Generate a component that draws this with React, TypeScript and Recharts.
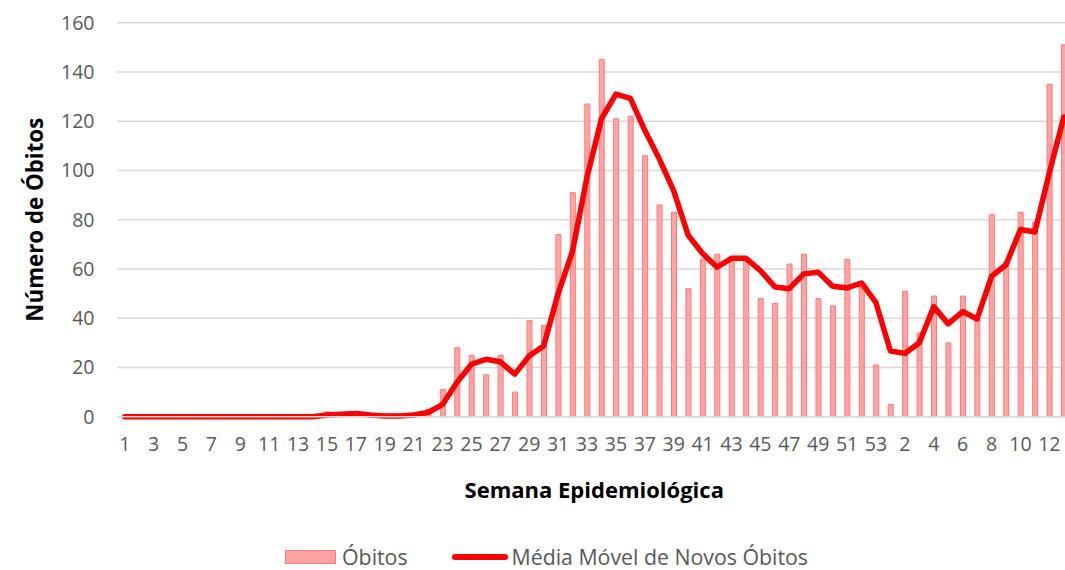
import React from "react";
import {
  ComposedChart,
  Bar,
  Line,
  XAxis,
  YAxis,
  CartesianGrid,
  Legend,
  Label,
} from "recharts";

// Epidemiological weeks: 2020 (1..53) followed by 2021 (1..13)
const weeks2020 = [
  1, 2, 3, 4, 5, 6, 7, 8, 9, 10, 11, 12, 13, 14, 15, 16, 17, 18, 19, 20, 21, 22, 23, 24, 25, 26,
  27, 28, 29, 30, 31, 32, 33, 34, 35, 36, 37, 38, 39, 40, 41, 42, 43, 44, 45, 46, 47, 48, 49, 50,
  51, 52, 53,
];
const weeks2021 = [1, 2, 3, 4, 5, 6, 7, 8, 9, 10, 11, 12, 13];

// Óbitos per week
const obitos2020 = [
  0, 0, 0, 0, 0, 0, 0, 0, 0, 0, 0, 0, 0, 0, 2, 1, 1, 0, 0, 1, 1, 3, 11, 28, 25, 17, 25, 10, 39,
  37, 74, 91, 127, 145, 121, 122, 106, 86, 83, 52, 64, 66, 63, 64, 48, 46, 62, 66, 48, 45, 64, 54,
  21,
];
const obitos2021 = [5, 51, 34, 49, 30, 49, 40, 82, 63, 83, 79, 135, 151];

// Média Móvel de Novos Óbitos
const media2020 = [
  0, 0, 0, 0, 0, 0, 0, 0, 0, 0, 0, 0, 0, 0, 0.7, 1.0, 1.3, 0.7, 0.3, 0.3, 0.7, 1.7, 5.0, 14.0,
  21.3, 23.3, 22.3, 17.3, 24.7, 28.7, 50.0, 67.3, 97.3, 121.0, 131.0, 129.3, 116.3, 104.7, 91.7,
  73.7, 66.3, 60.7, 64.3, 64.3, 59.3, 52.7, 52.0, 58.0, 58.7, 53.0, 52.3, 54.3, 46.3,
];
const media2021 = [26.7, 25.7, 30.0, 44.7, 37.7, 42.7, 39.7, 57.0, 61.7, 76.0, 75.0, 99.0, 121.7];

const yTicks = [0, 20, 40, 60, 80, 100, 120, 140, 160];

const data = [
  ...weeks2020.map((w, i) => ({
    key: `2020-${w}`,
    week: w,
    obitos: obitos2020[i],
    media: media2020[i],
  })),
  ...weeks2021.map((w, i) => ({
    key: `2021-${w}`,
    week: w,
    obitos: obitos2021[i],
    media: media2021[i],
  })),
];

const FONT = "'Open Sans', 'Noto Sans', sans-serif";
const GRAY = "#595959";

const renderLegend = () => (
  <div
    style={{
      height: 40,
      boxSizing: "border-box",
      paddingTop: 17,
      paddingBottom: 3,
      paddingLeft: 22,
      display: "flex",
      alignItems: "center",
      justifyContent: "center",
      fontFamily: FONT,
      fontSize: 21.3,
      color: GRAY,
      lineHeight: "20px",
      whiteSpace: "nowrap",
    }}
  >
    <span
      style={{
        display: "inline-block",
        width: 49,
        height: 12,
        background: "#ffa3a3",
        border: "1px solid #ff7a7a",
        marginRight: 6,
      }}
    />
    <span>Óbitos</span>
    <span
      style={{
        display: "inline-block",
        width: 56,
        height: 6,
        background: "#ff0000",
        borderRadius: 3,
        marginLeft: 44,
        marginRight: 4,
      }}
    />
    <span>Média Móvel de Novos Óbitos</span>
  </div>
);

export default function App() {
  return (
    <div
      style={{
        position: "fixed",
        left: 0,
        top: 0,
        width: 1065,
        height: 570,
        overflow: "hidden",
        background: "#ffffff",
      }}
    >
      <ComposedChart
        width={1071}
        height={570}
        data={data}
        margin={{ top: 22.7, right: 0, bottom: 0, left: 0 }}
        barCategoryGap={0}
      >
        <CartesianGrid vertical={false} stroke="#d9d9d9" strokeWidth={1.5} />
        <XAxis
          dataKey="key"
          interval={1}
          tickFormatter={(v: string) => v.split("-")[1]}
          tickLine={false}
          axisLine={{ stroke: "#d9d9d9", strokeWidth: 1.5 }}
          tick={{ fill: GRAY, fontSize: 19.5, fontFamily: FONT }}
          tickMargin={14}
          height={113.3}
        >
          <Label
            content={({ viewBox }: any) => (
              <text
                x={viewBox.x + viewBox.width / 2}
                y={viewBox.y + 72}
                textAnchor="middle"
                dominantBaseline="central"
                fontFamily={FONT}
                fontWeight={700}
                fontSize={22}
                fill="#000000"
              >
                Semana Epidemiológica
              </text>
            )}
          />
        </XAxis>
        <YAxis
          domain={[0, 160]}
          ticks={yTicks}
          width={117.5}
          tickLine={false}
          axisLine={false}
          tickMargin={17}
          tick={{ fill: GRAY, fontSize: 19.5, fontFamily: FONT }}
        >
          <Label
            content={({ viewBox }: any) => {
              const cx = viewBox.x + 35;
              const cy = viewBox.y + viewBox.height / 2;
              return (
                <text
                  x={cx}
                  y={cy}
                  transform={`rotate(-90 ${cx} ${cy})`}
                  textAnchor="middle"
                  dominantBaseline="central"
                  fontFamily={FONT}
                  fontWeight={700}
                  fontSize={22.3}
                  fill="#000000"
                >
                  Número de Óbitos
                </text>
              );
            }}
          />
        </YAxis>
        <Legend verticalAlign="bottom" height={40} content={renderLegend} />
        <Bar
          dataKey="obitos"
          name="Óbitos"
          barSize={5}
          fill="#ffa3a3"
          stroke="#ff7a7a"
          strokeWidth={1}
          isAnimationActive={false}
        />
        <Line
          dataKey="media"
          name="Média Móvel de Novos Óbitos"
          type="linear"
          stroke="#ff0000"
          strokeWidth={5.5}
          strokeLinejoin="round"
          strokeLinecap="round"
          dot={false}
          activeDot={false}
          isAnimationActive={false}
        />
      </ComposedChart>
    </div>
  );
}
